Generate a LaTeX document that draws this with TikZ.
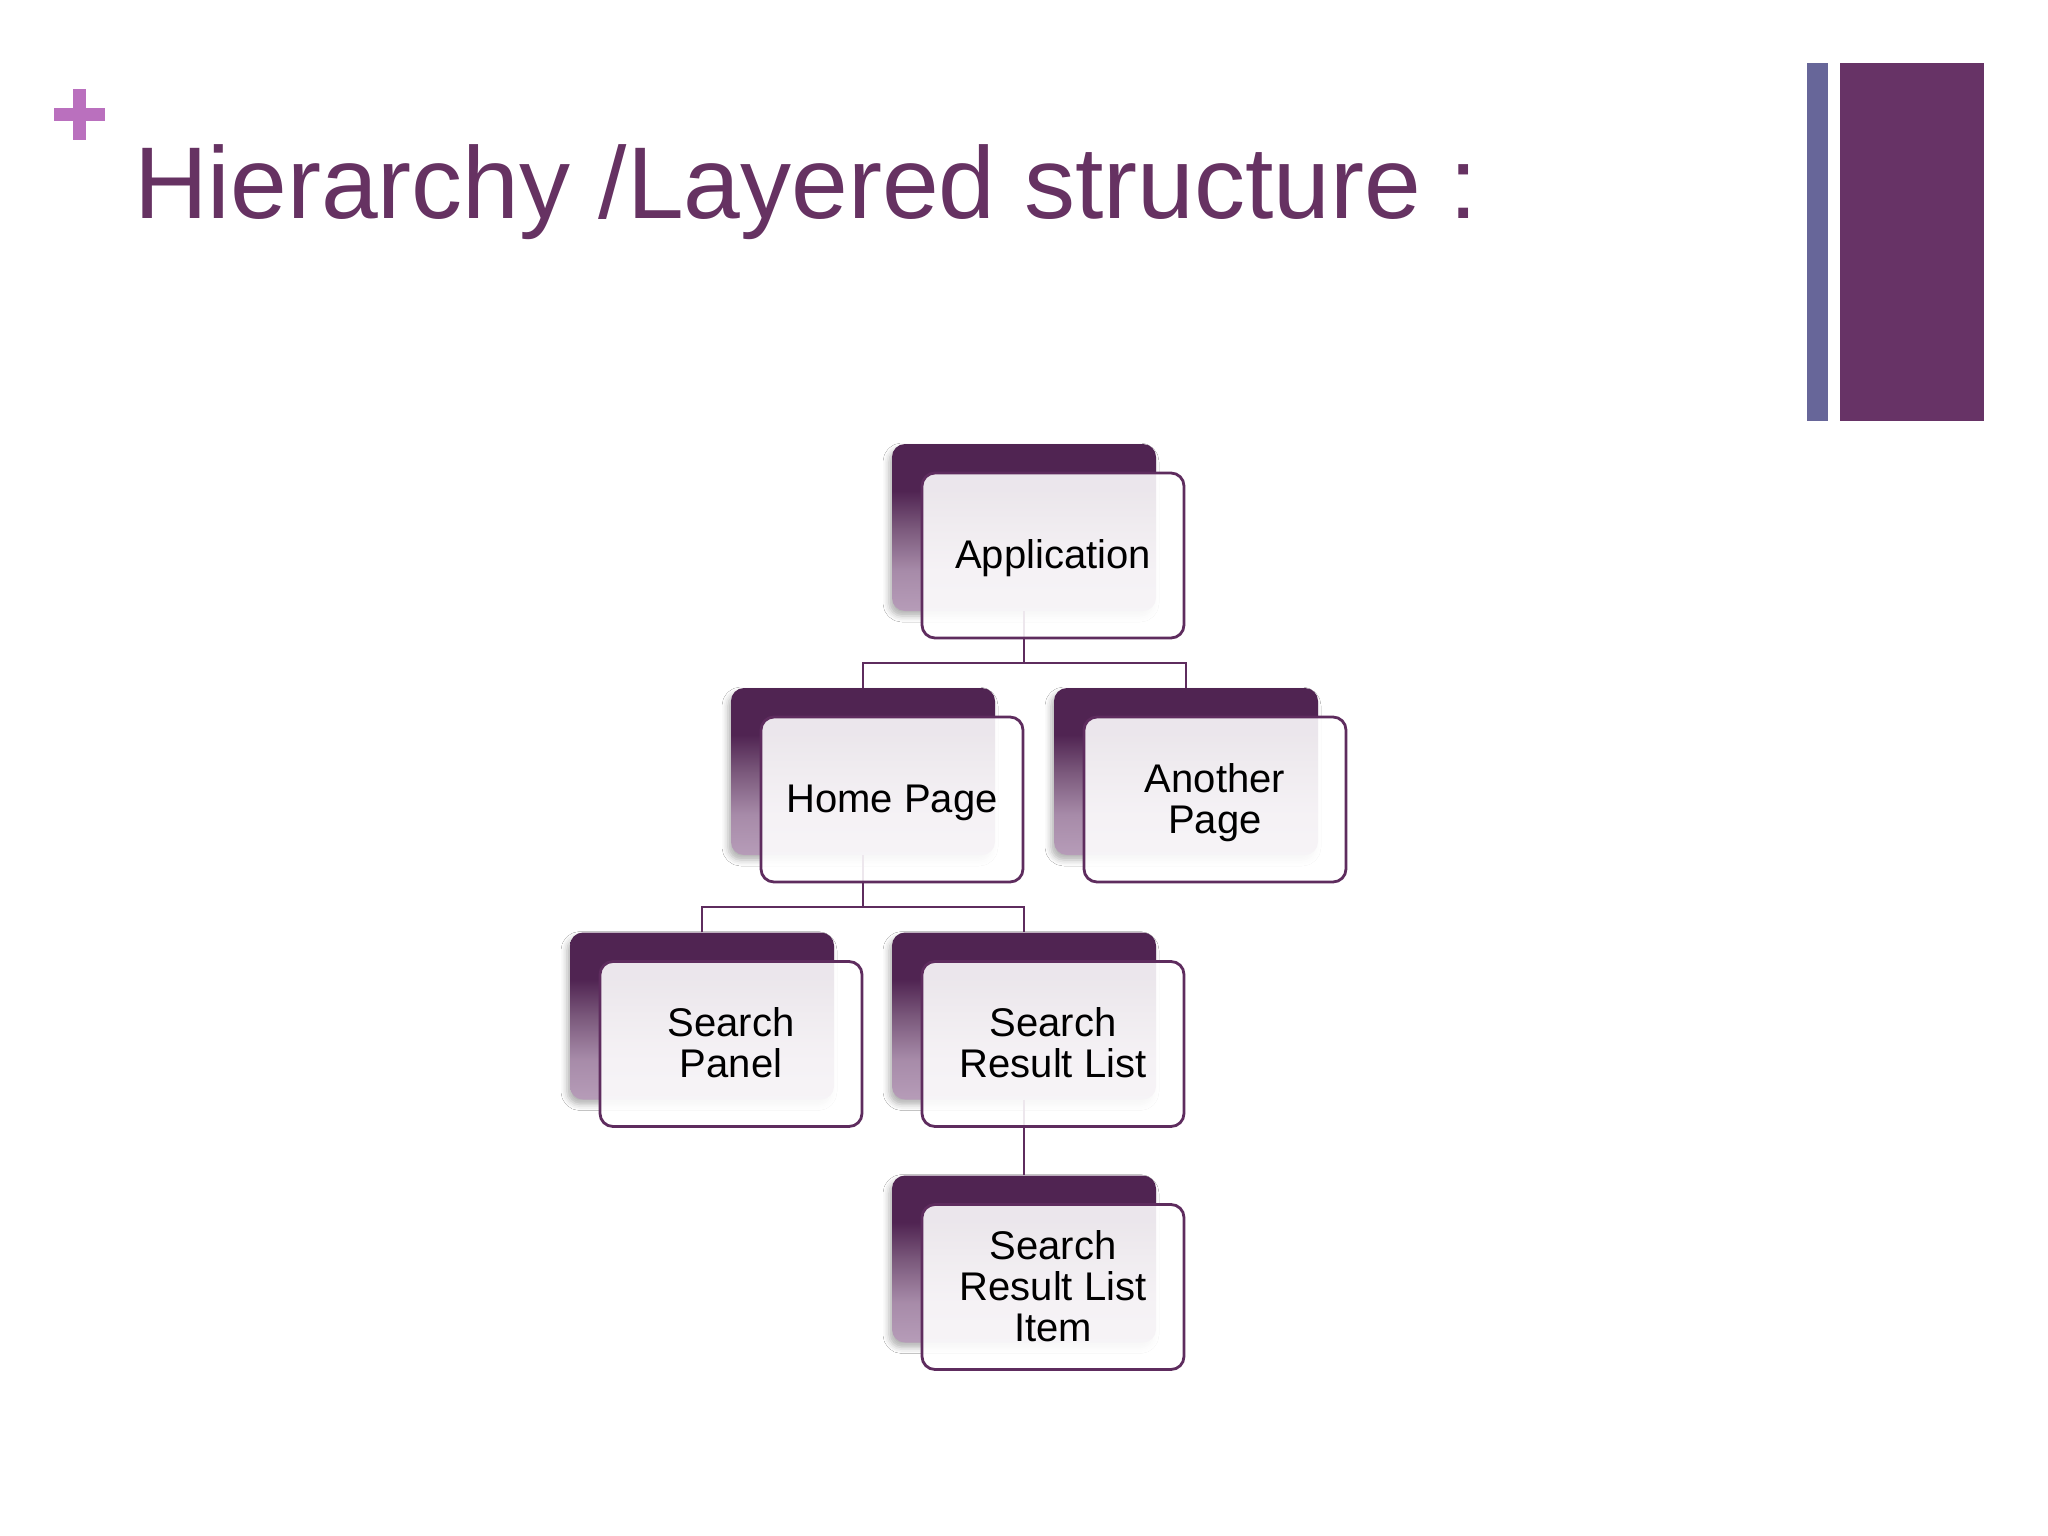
\documentclass[tikz,border=0pt]{standalone}
\usepackage{fontspec}
\setmainfont{Liberation Sans}
\usetikzlibrary{shadows.blur}
\definecolor{titlecol}{RGB}{102,50,98}
\definecolor{pluscol}{RGB}{186,112,190}
\definecolor{barblue}{RGB}{103,102,153}
\definecolor{barpurple}{RGB}{103,51,102}
\definecolor{boxdark}{RGB}{80,36,82}
\definecolor{boxmid}{RGB}{122,88,123}
\definecolor{boxlight}{RGB}{182,156,184}
\definecolor{linecol}{RGB}{94,44,94}
\pgfdeclareverticalshading{backshade}{100bp}{color(0bp)=(boxlight); color(25bp)=(boxlight); color(37bp)=(boxlight!75!boxmid); color(50bp)=(boxmid); color(61bp)=(boxdark); color(75bp)=(boxdark); color(100bp)=(boxdark)}
\tikzset{
  backbox/.style={shape=rectangle, rounded corners=13pt, minimum width=264pt, minimum height=167pt, inner sep=0pt, shading=backshade,
    blur shadow={shadow xshift=-3pt, shadow yshift=-5pt, shadow blur radius=6pt, shadow opacity=30}},
  frontbox/.style={shape=rectangle, rounded corners=13pt, minimum width=262pt, minimum height=165pt, inner sep=0pt, draw=linecol, line width=2.8pt,
    fill=white, fill opacity=0.89},
  boxtext/.style={inner sep=0pt, align=center, font=\fontsize{40}{41}\selectfont, text=black},
  conn/.style={draw=linecol, line width=2.8pt}
}
\begin{document}
\begin{tikzpicture}[x=1pt,y=-1pt]
\useasboundingbox (0,0) rectangle (2048,1536);
\fill[white] (0,0) rectangle (2048,1536);
% plus sign
\fill[pluscol] (54,108) rectangle (105,121);
\fill[pluscol] (73,89) rectangle (86,140);
% title
\node[anchor=base west, inner sep=0pt, text=titlecol, font=\fontsize{102}{110}\selectfont] (title) at (134,218) {Hierarchy /Layered structure :};
% bars
\fill[barblue] (1807,63) rectangle (1828,421);
\fill[barpurple] (1840,63) rectangle (1984,421);
% back boxes
\node[backbox] (appB) at (1024,527.5) {};
\node[backbox] (homeB) at (863,771.5) {};
\node[backbox] (anotherB) at (1186,771.5) {};
\node[backbox] (panelB) at (702,1016) {};
\node[backbox] (listB) at (1024,1016) {};
\node[backbox] (itemB) at (1024,1259) {};
% connectors
\coordinate (j1) at (1024,663);
\coordinate (j2) at (863,907);
\draw[conn] (appB.south) -- (j1);
\draw[conn] (homeB.north) |- (j1) -| (anotherB.north);
\draw[conn] (homeB.south) -- (j2);
\draw[conn] (panelB.north) |- (j2) -| (listB.north);
\draw[conn] (listB.south) -- (itemB.north);
% front boxes
\node[frontbox] (app) at (1053,555.5) {};
\node[frontbox] (home) at (892,799.5) {};
\node[frontbox] (another) at (1215,799.5) {};
\node[frontbox] (panel) at (731,1044) {};
\node[frontbox] (list) at (1053,1044) {};
\node[frontbox] (item) at (1053,1287) {};
% texts
\node[boxtext] (appT) at ([yshift=-3pt]app.center) {Application};
\node[boxtext] (homeT) at ([yshift=-3pt]home.center) {Home Page};
\node[boxtext] (anotherT) at ([yshift=-3pt]another.center) {Another\\Page};
\node[boxtext] (panelT) at ([yshift=1pt]panel.center) {Search\\Panel};
\node[boxtext] (listT) at ([yshift=1pt]list.center) {Search\\Result List};
\node[boxtext] (itemT) at ([yshift=1pt]item.center) {Search\\Result List\\Item};
\end{tikzpicture}
\end{document}
